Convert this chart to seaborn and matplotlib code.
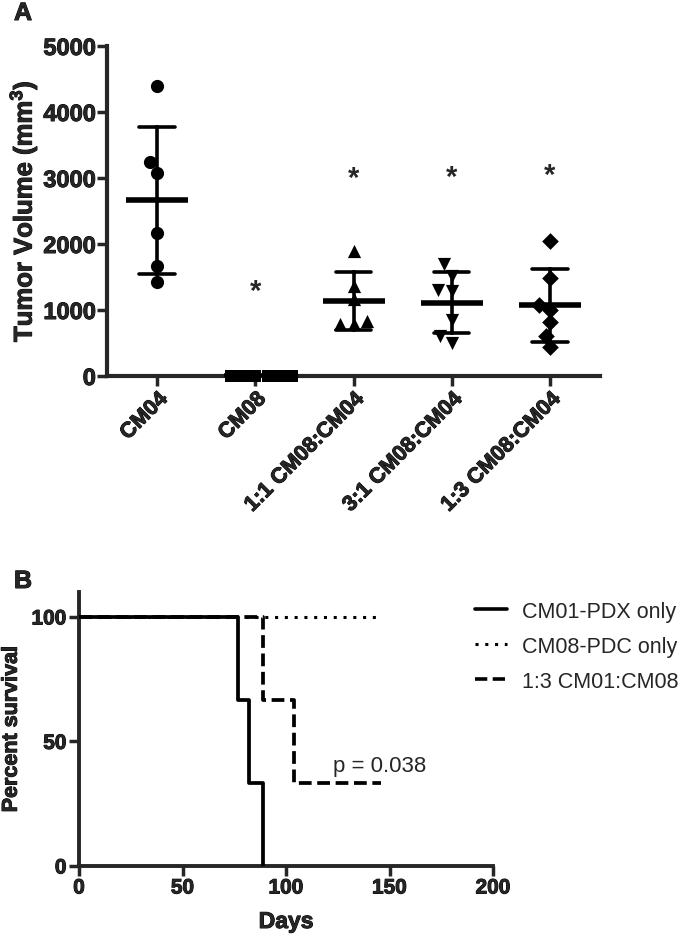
import numpy as np
import pandas as pd
import seaborn as sns
import matplotlib
matplotlib.use("Agg")
import matplotlib.pyplot as plt
import matplotlib.patheffects as pe
from matplotlib.lines import Line2D

# ---------------- data ----------------
categories = ["CM04", "CM08", "1:1 CM08:CM04", "3:1 CM08:CM04", "1:3 CM08:CM04"]
cm04 = [4390, 3240, 3070, 2170, 1670, 1430]
cm08 = [0, 0, 0, 0, 0, 0]
mix_1_1 = [1900, 1370, 1160, 830, 790, 790]
mix_3_1 = [1690, 1520, 1310, 1290, 850, 610, 500]
mix_1_3 = [2040, 1490, 1080, 1000, 820, 610, 440]
group_values = [cm04, cm08, mix_1_1, mix_3_1, mix_1_3]
group_markers = ["o", "s", "^", "v", "D"]
star_y = [None, 1290, 3000, 3010, 3040]

pdx_days = [0, 77, 82, 89]
pdx_surv = [100, 66.7, 33.3, 0]
pdc_days = [0, 146]
pdc_surv = [100, 100]
mix_days = [0, 89, 104, 146]
mix_surv = [100, 66.7, 33.3, 33.3]
surv_labels = ["CM01-PDX only", "CM08-PDC only", "1:3 CM01:CM08"]

# ---------------- style ----------------
sns.set_style("ticks")
plt.rcParams["font.family"] = ["Liberation Sans", "DejaVu Sans"]
plt.rcParams["mathtext.default"] = "regular"

W, H = 685, 937
fig = plt.figure(figsize=(W / 100, H / 100), dpi=100)
heavy = [pe.withStroke(linewidth=0.7, foreground="black")]


def px_axes(l, t, r, b):
    return fig.add_axes([l / W, 1 - b / H, (r - l) / W, (b - t) / H])


def embolden(texts):
    for t in texts:
        t.set_fontweight("bold")
        t.set_path_effects(heavy)


# ---------------- panel A ----------------
axA = px_axes(107, 47, 600, 377)
df = pd.DataFrame({
    "group": np.concatenate([[c] * len(v) for c, v in zip(categories, group_values)]),
    "value": np.concatenate(group_values),
})

for cat, mk in zip(categories, group_markers):
    sub = df[df["group"] == cat]
    sz = 9.5 if mk in ("o", "^", "v") else (8.5 if mk == "s" else 8.5)
    sns.swarmplot(data=sub, x="group", y="value", order=categories, marker=mk,
                  color="black", size=sz, linewidth=0, ax=axA, clip_on=False, zorder=3)

sns.pointplot(data=df, x="group", y="value", order=categories, errorbar="sd",
              capsize=0.36, linestyle="none", marker="_", markersize=45,
              markeredgewidth=4, color="black", err_kws={"linewidth": 2.6},
              ax=axA, zorder=4)

for i, sy in enumerate(star_y):
    if sy is not None:
        axA.text(i, sy, "*", ha="center", va="center", fontsize=21, fontweight="bold")

axA.set_xlim(-0.51, 4.51)
axA.set_ylim(0, 5000)
axA.set_yticks([0, 1000, 2000, 3000, 4000, 5000])
axA.set_xlabel("")
axA.set_ylabel("Tumor Volume (mm$^3$)", fontsize=18.5, fontweight="bold", labelpad=3)
embolden([axA.yaxis.label])
sns.despine(ax=axA)
for s in ["left", "bottom"]:
    axA.spines[s].set_linewidth(3)
axA.tick_params(axis="y", width=2.5, length=7, labelsize=17, pad=1)
axA.tick_params(axis="x", width=2.5, length=7, labelsize=15.5, pad=2)
axA.set_xticks(range(len(categories)))
axA.set_xticklabels(categories, rotation=45, ha="right", va="top",
                    rotation_mode="anchor", fontsize=15.5)
embolden(axA.get_xticklabels() + axA.get_yticklabels())

tA = fig.text(14 / W, 1 - 14 / H, "A", fontsize=18, ha="left", va="center")
embolden([tA])

# ---------------- panel B ----------------
axB = px_axes(79, 593, 493, 867)
sns.lineplot(x=pdc_days, y=pdc_surv, color="black", linewidth=2.2,
             linestyle=(0, (1, 2.2)), drawstyle="steps-post", ax=axB, zorder=2)
sns.lineplot(x=mix_days, y=mix_surv, color="black", linewidth=2.7,
             linestyle=(0, (3.4, 1.5)), drawstyle="steps-post", ax=axB, zorder=3,
             dash_capstyle="butt")
sns.lineplot(x=pdx_days, y=pdx_surv, color="black", linewidth=2.7,
             drawstyle="steps-post", ax=axB, zorder=4)

axB.set_xlim(0, 200)
axB.set_ylim(0, 110)
axB.set_xticks([0, 50, 100, 150, 200])
axB.set_yticks([0, 50, 100])
sns.despine(ax=axB)
for s in ["left", "bottom"]:
    axB.spines[s].set_linewidth(2.8)
axB.tick_params(axis="both", width=2.5, length=7, labelsize=15, pad=2)
axB.set_xlabel("Days", fontsize=16.5, labelpad=9)
axB.set_ylabel("Percent survival", fontsize=15.5, labelpad=7)
embolden(axB.get_xticklabels() + axB.get_yticklabels() + [axB.xaxis.label, axB.yaxis.label])
axB.text(122.7, 38, "p = 0.038", fontsize=16, ha="left", va="baseline")

handles = [
    Line2D([], [], color="black", linewidth=2.6),
    Line2D([], [], color="black", linewidth=2.2, linestyle=(0, (1, 2.2))),
    Line2D([], [], color="black", linewidth=2.6, linestyle=(0, (3.4, 1.5))),
]
fig.legend(handles, surv_labels, loc="upper left",
           bbox_to_anchor=(475 / W, 1 - 602 / H), frameon=False, fontsize=15.5,
           handlelength=1.5, handletextpad=0.7, labelspacing=0.65, borderpad=0,
           borderaxespad=0)

tB = fig.text(14 / W, 1 - 582 / H, "B", fontsize=18, ha="left", va="center")
embolden([tB])

fig.savefig("out.png", dpi=100)
